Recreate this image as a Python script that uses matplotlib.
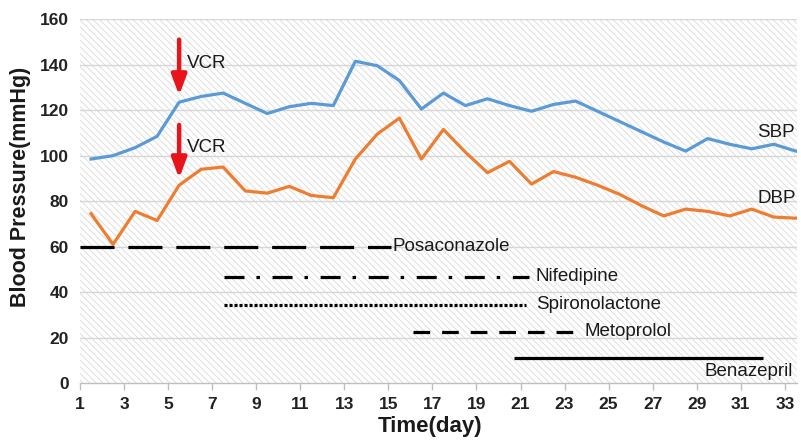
import numpy as np
import matplotlib
matplotlib.use("Agg")
import matplotlib.pyplot as plt
from matplotlib.patches import Rectangle

plt.rcParams['font.family'] = ['Liberation Sans', 'DejaVu Sans']
plt.rcParams['lines.scale_dashes'] = False
plt.rcParams['hatch.linewidth'] = 0.6

# --- data ---
days = np.arange(1.5, 34.0, 1.0)
sbp = [98.5, 100, 103.5, 108.5, 123.5, 126, 127.5, 123, 118.5, 121.5, 123,
       122, 141.5, 139.5, 133, 120.5, 127.5, 122, 125, 122, 119.5, 122.5,
       124, 119.5, 115, 110.5, 106, 102, 107.5, 105, 103, 105, 102]
dbp = [74.5, 61, 75.5, 71.5, 87, 94, 95, 84.5, 83.5, 86.5, 82.5, 81.5,
       98.5, 109.5, 116.5, 98.5, 111.5, 101.5, 92.5, 97.5, 87.5, 93, 90.5,
       87, 83, 78, 73.5, 76.5, 75.5, 73.5, 76.5, 73, 72.5]

# drug periods: name, start day, end day, level
drugs = ['Posaconazole', 'Nifedipine', 'Spironolactone', 'Metoprolol', 'Benazepril']
drug_start = [1.0, 7.55, 7.55, 16.1, 20.7]
drug_end = [15.1, 21.4, 21.25, 23.4, 32.0]
drug_level = [60, 46.7, 34.5, 22.5, 11]

vcr_day = 5.5
xticks = np.arange(1, 34, 2)
yticks = np.arange(0, 161, 20)

# --- figure ---
fig = plt.figure(figsize=(8.01, 4.45), dpi=100)
ax = fig.add_axes([0.0999, 0.139, 0.895, 0.818])

# hatched plot area background
ax.add_patch(Rectangle((0, 0), 1, 1, transform=ax.transAxes, facecolor='white',
                       edgecolor='#d9d9d9', hatch='\\\\\\\\\\', linewidth=0, zorder=0))

for y in yticks[1:]:
    ax.axhline(y, color='#d6d6d6', lw=1.0, zorder=1)

ax.plot(days, sbp, color='#5b9bd5', lw=2.3, zorder=3, solid_joinstyle='round')
ax.plot(days, dbp, color='#ed7d31', lw=2.3, zorder=3, solid_joinstyle='round')

styles = [(0, (24.5, 10)), (0, (14.4, 8.6, 2.5, 9.1)), (0, (2.2, 1.4)),
          (0, (12, 8.6)), '-']
for s, e, lv, ls in zip(drug_start, drug_end, drug_level, styles):
    ax.plot([s, e], [lv, lv], color='black', lw=2.3, linestyle=ls,
            dash_capstyle='butt', solid_capstyle='butt', zorder=4)

fs = 13.5
tc = '#1a1a1a'
ax.text(15.2, drug_level[0], drugs[0], fontsize=fs, va='center', ha='left', color=tc, zorder=5)
ax.text(21.7, drug_level[1], drugs[1], fontsize=fs, va='center', ha='left', color=tc, zorder=5)
ax.text(21.7, drug_level[2], drugs[2], fontsize=fs, va='center', ha='left', color=tc, zorder=5)
ax.text(23.9, drug_level[3], drugs[3], fontsize=fs, va='center', ha='left', color=tc, zorder=5)
ax.text(33.35, 5, drugs[4], fontsize=fs, va='center', ha='right', color=tc, zorder=5)

ax.text(31.75, 110, 'SBP', fontsize=fs, va='center', ha='left', color=tc, zorder=5)
ax.text(31.75, 81, 'DBP', fontsize=fs, va='center', ha='left', color=tc, zorder=5)

# VCR arrows
for top, tip, ty in [(151, 126.5, 140.7), (113.5, 90, 103.7)]:
    ax.annotate('', xy=(vcr_day, tip), xytext=(vcr_day, top),
                arrowprops=dict(arrowstyle='-|>,head_width=0.45,head_length=1.2',
                                color='#e8141c', lw=3.2, shrinkA=0, shrinkB=0),
                zorder=6)
    ax.text(vcr_day + 0.35, ty, 'VCR', fontsize=fs, va='center', ha='left', color=tc, zorder=6)

ax.set_xlim(1, 33.55)
ax.set_ylim(0, 160)
ax.set_xticks(xticks)
ax.set_yticks(yticks)
ax.tick_params(axis='y', length=0, pad=8, labelsize=12.5)
ax.tick_params(axis='x', length=5, width=1, color='#bfbfbf', pad=5, labelsize=12.5)
for lab in ax.get_xticklabels() + ax.get_yticklabels():
    lab.set_fontweight('bold')
    lab.set_color('#222222')
for side in ['left', 'right', 'top']:
    ax.spines[side].set_visible(False)
ax.spines['bottom'].set_color('#bfbfbf')
ax.spines['bottom'].set_linewidth(1)

ax.set_xlabel('Time(day)', fontsize=16, fontweight='bold', color=tc)
ax.xaxis.set_label_coords(0.488, -0.09)
ax.set_ylabel('Blood Pressure(mmHg)', fontsize=15.5, fontweight='bold', color=tc)
ax.yaxis.set_label_coords(-0.068, 0.54)

fig.savefig('out.png', dpi=100)
